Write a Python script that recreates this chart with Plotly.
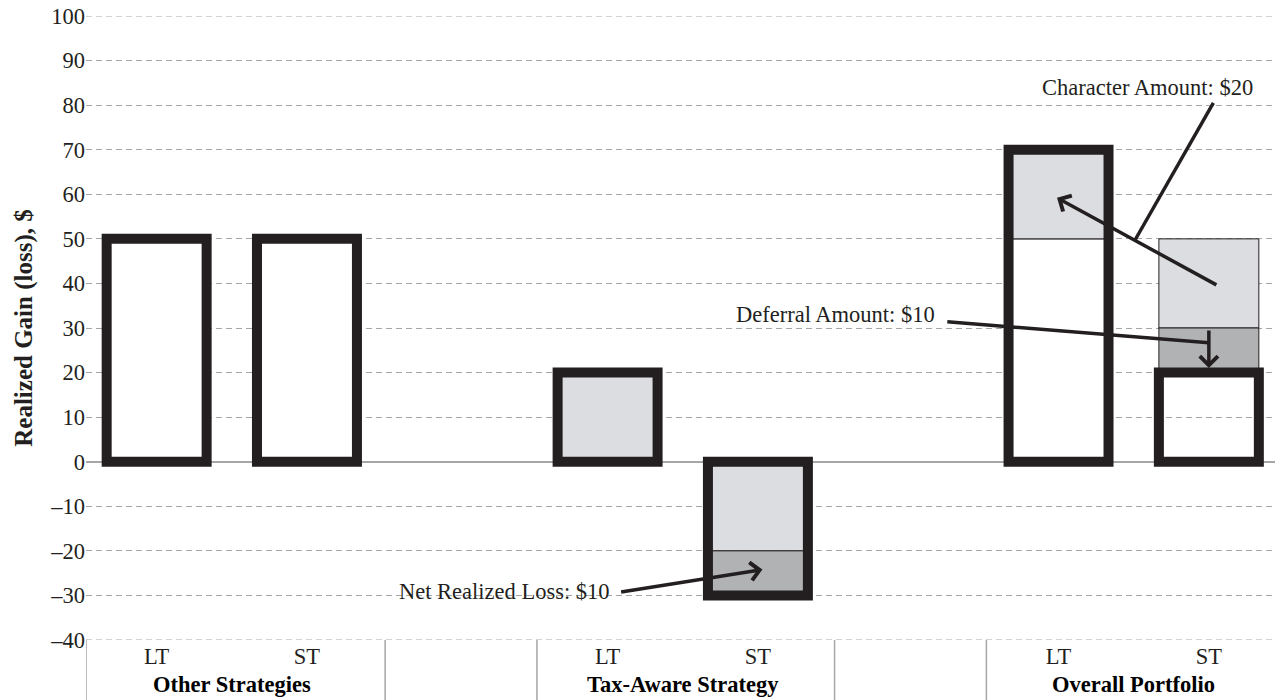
import plotly.graph_objects as go

# ---- data ----
x_pos = [0, 1, 3, 4, 6, 7]
bar_labels = ["LT", "ST", "LT", "ST", "LT", "ST"]
groups = ["Other Strategies", "Tax-Aware Strategy", "Overall Portfolio"]
group_pos = [0.5, 3.5, 6.5]
separators = [-0.47, 1.52, 2.53, 4.51, 5.52]

# net realized amounts (thick outlined bars)
net_value = [50, 50, 20, -30, 70, 20]

# white segments (base, value)
white_x = [0, 1, 6]
white_base = [0, 0, 0]
white_val = [50, 50, 50]

# light grey segments
light_x = [3, 4, 6, 7]
light_base = [0, 0, 50, 30]
light_val = [20, -20, 20, 20]

# dark grey segments
dark_x = [4, 7]
dark_base = [-20, 20]
dark_val = [-10, 10]

y_tick_vals = [-40, -30, -20, -10, 0, 10, 20, 30, 40, 50, 60, 70, 80, 90, 100]
y_tick_text = ["\u201340", "\u201330", "\u201320", "\u201310", "0", "10", "20", "30",
               "40", "50", "60", "70", "80", "90", "100"]
y_min, y_max = -40, 100

BLACK = "#231f20"
LIGHT = "#dcdde0"
DARK = "#b1b2b4"
GRID = "#a6a6a6"
FONT = "Liberation Serif"
FS = 22.5
BW = 0.665

fig = go.Figure()

fig.add_trace(go.Bar(x=white_x, y=white_val, base=white_base, width=BW,
                     marker=dict(color="white", line=dict(color=BLACK, width=1)),
                     showlegend=False, hoverinfo="skip"))
fig.add_trace(go.Bar(x=light_x, y=light_val, base=light_base, width=BW,
                     marker=dict(color=LIGHT, line=dict(color=BLACK, width=1)),
                     showlegend=False, hoverinfo="skip"))
fig.add_trace(go.Bar(x=dark_x, y=dark_val, base=dark_base, width=BW,
                     marker=dict(color=DARK, line=dict(color=BLACK, width=1)),
                     showlegend=False, hoverinfo="skip"))
fig.add_trace(go.Bar(x=x_pos, y=net_value, width=BW,
                     marker=dict(color="rgba(0,0,0,0)", line=dict(color=BLACK, width=10)),
                     showlegend=False, hoverinfo="skip"))

# edge gridlines (top and bottom of the value range)
for yv in (y_min, y_max):
    fig.add_shape(type="line", xref="paper", yref="y", x0=0, x1=1, y0=yv, y1=yv,
                  line=dict(color=GRID, width=1, dash="6px,4px"), layer="below")

# group labels
for g, p in zip(groups, group_pos):
    fig.add_annotation(x=p, y=0, xref="x", yref="paper", yanchor="top", yshift=-30,
                       text="<b>" + g + "</b>", showarrow=False,
                       font=dict(family=FONT, size=FS, color="black"))

# category separators
for s in separators:
    fig.add_shape(type="line", xref="x", yref="paper", x0=s, x1=s, y0=0, y1=-0.1,
                  line=dict(color=GRID, width=1.5))

# callout texts
fig.add_annotation(x=7.31, y=84.0, xref="x", yref="y", xanchor="right",
                   text="Character Amount: $20", showarrow=False,
                   font=dict(family=FONT, size=FS, color=BLACK))
fig.add_annotation(x=5.19, y=33.0, xref="x", yref="y", xanchor="right",
                   text="Deferral Amount: $10", showarrow=False,
                   font=dict(family=FONT, size=FS, color=BLACK))
fig.add_annotation(x=3.03, y=-29.2, xref="x", yref="y", xanchor="right",
                   text="Net Realized Loss: $10", showarrow=False,
                   font=dict(family=FONT, size=FS, color=BLACK))

# leader lines
fig.add_shape(type="line", xref="x", yref="y", x0=7.03, y0=80.5, x1=6.51, y1=49.8,
              line=dict(color=BLACK, width=3.5))
fig.add_shape(type="line", xref="x", yref="y", x0=5.26, y0=31.4, x1=7.0, y1=26.7,
              line=dict(color=BLACK, width=3.5))

# arrows
arrow = dict(xref="x", yref="y", axref="x", ayref="y", text="", showarrow=True,
             arrowhead=4, arrowsize=1, arrowwidth=3.5, arrowcolor=BLACK, standoff=0)
fig.add_annotation(x=5.99, y=59.2, ax=7.06, ay=39.5, **arrow)
fig.add_annotation(x=7.0, y=21.0, ax=7.0, ay=29.8, **arrow)
fig.add_annotation(x=4.03, y=-24.2, ax=3.08, ay=-29.3, **arrow)

fig.update_layout(
    width=1279, height=700,
    margin=dict(l=86, r=4, t=16, b=60),
    plot_bgcolor="white", paper_bgcolor="white",
    barmode="overlay",
    font=dict(family=FONT, size=FS, color=BLACK),
    xaxis=dict(range=[-0.47, 7.44], tickvals=x_pos, ticktext=bar_labels,
               showgrid=False, zeroline=False, showline=False, ticks="",
               tickfont=dict(family=FONT, size=FS, color=BLACK)),
    yaxis=dict(range=[y_min, y_max], tickvals=y_tick_vals, ticktext=y_tick_text,
               showgrid=True, gridcolor=GRID, gridwidth=1, griddash="6px,4px",
               zeroline=True, zerolinecolor=GRID, zerolinewidth=1.5,
               showline=False, ticks="",
               tickfont=dict(family=FONT, size=FS, color=BLACK),
               title=dict(text="<b>Realized Gain (loss), $</b>",
                          font=dict(family=FONT, size=25, color=BLACK), standoff=10)),
)

fig.write_html("out.html", config={"displayModeBar": False},
               post_script="document.body.style.margin='0';")
